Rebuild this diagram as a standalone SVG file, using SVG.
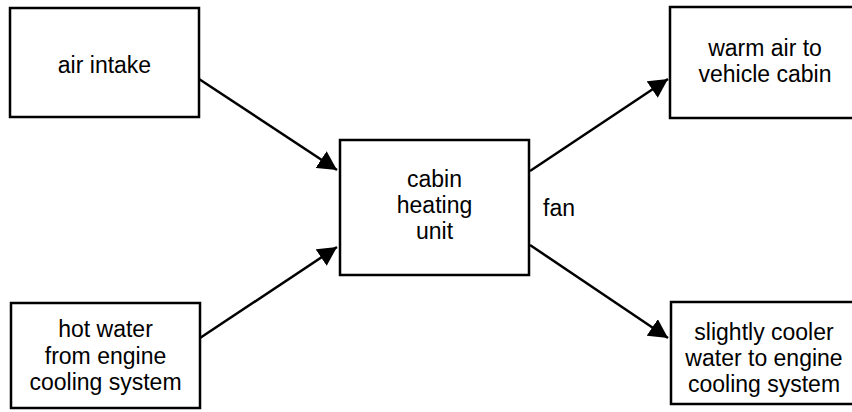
<svg xmlns="http://www.w3.org/2000/svg" width="852" height="412" viewBox="0 0 852 412">
  <style>
    .box { fill: #ffffff; stroke: #000000; stroke-width: 2.5; }
    .lbl { font-family: "Liberation Sans", Arial, sans-serif; font-size: 23px; fill: #000000; text-anchor: middle; }
    .edge { stroke: #000000; stroke-width: 2.5; fill: none; marker-end: url(#head); }
  </style>
  <defs>
    <marker id="head" viewBox="0 0 19 20" refX="19" refY="10" markerWidth="19" markerHeight="20" markerUnits="userSpaceOnUse" orient="auto">
      <path d="M0,0 L19,10 L0,20 Z" fill="#000000"/>
    </marker>
  </defs>
  <rect width="852" height="412" fill="#ffffff"/>

  <g id="connectors">
    <line class="edge" x1="199" y1="79" x2="337" y2="170"/>
    <line class="edge" x1="200" y1="338" x2="337" y2="247"/>
    <line class="edge" x1="530" y1="171" x2="668" y2="79"/>
    <line class="edge" x1="530" y1="245" x2="668" y2="338"/>
  </g>

  <g id="air-intake">
    <rect class="box" x="10" y="8" width="189" height="109"/>
    <text class="lbl" x="104.5" y="73">air intake</text>
  </g>

  <g id="hot-water">
    <rect class="box" x="11" y="303" width="189" height="105"/>
    <text class="lbl" x="105.5" y="337">hot water</text>
    <text class="lbl" x="105.5" y="364">from engine</text>
    <text class="lbl" x="105.5" y="390">cooling system</text>
  </g>

  <g id="heating-unit">
    <rect class="box" x="340" y="140" width="189" height="135"/>
    <text class="lbl" x="434.5" y="187">cabin</text>
    <text class="lbl" x="434.5" y="213">heating</text>
    <text class="lbl" x="434.5" y="239">unit</text>
  </g>

  <g id="fan-label">
    <text class="lbl" x="559" y="216">fan</text>
  </g>

  <g id="warm-air">
    <rect class="box" x="670" y="7" width="190" height="111"/>
    <text class="lbl" x="765" y="56">warm air to</text>
    <text class="lbl" x="765" y="82">vehicle cabin</text>
  </g>

  <g id="cooler-water">
    <rect class="box" x="671" y="302" width="189" height="102"/>
    <text class="lbl" x="764" y="340">slightly cooler</text>
    <text class="lbl" x="764" y="366">water to engine</text>
    <text class="lbl" x="764" y="392">cooling system</text>
  </g>
</svg>
